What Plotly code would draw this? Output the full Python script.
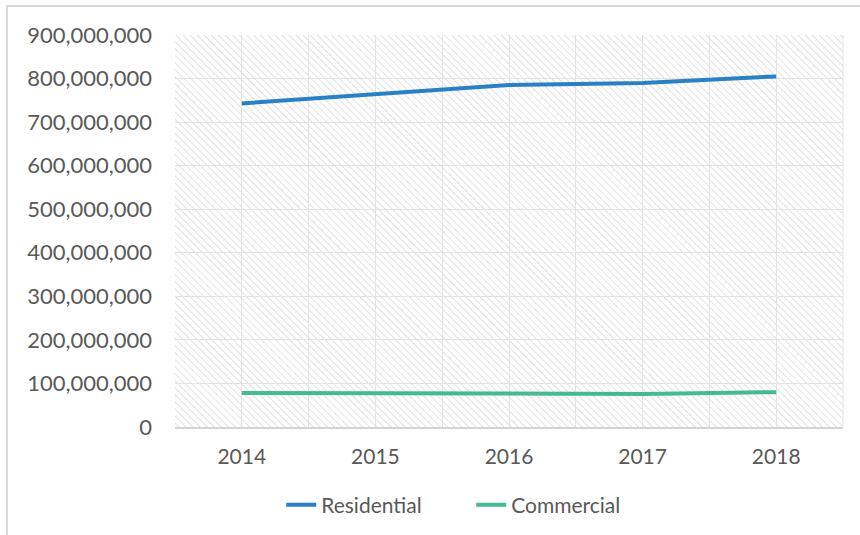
import base64
import plotly.graph_objects as go

years = [2014, 2015, 2016, 2017, 2018]
residential = [743_000_000, 764_000_000, 785_000_000, 790_000_000, 805_000_000]
commercial = [78_000_000, 78_000_000, 77_000_000, 76_000_000, 80_000_000]

W, H = 860, 535
L, R, T, B = 175, 17, 35, 108
pw, ph = W - L - R, H - T - B

svg = f'''<svg xmlns="http://www.w3.org/2000/svg" width="{pw}" height="{ph}">
<defs><pattern id="p" width="5" height="5" patternUnits="userSpaceOnUse" patternTransform="rotate(-45)">
<line x1="0" y1="0" x2="0" y2="5" stroke="#dcdcdc" stroke-width="1.7"/></pattern></defs>
<rect width="100%" height="100%" fill="white"/><rect width="100%" height="100%" fill="url(#p)"/></svg>'''
src = "data:image/svg+xml;base64," + base64.b64encode(svg.encode()).decode()

FAM = "Lato, 'Open Sans', sans-serif"
GREY = "#595959"

fig = go.Figure()
fig.add_trace(go.Scatter(x=years, y=residential, mode="lines", name="Residential",
                         line=dict(color="#2A80C6", width=4)))
fig.add_trace(go.Scatter(x=years, y=commercial, mode="lines", name="Commercial",
                         line=dict(color="#44BA94", width=4)))

fig.update_layout(
    width=W, height=H,
    margin=dict(l=L, r=R, t=T, b=B),
    paper_bgcolor="white", plot_bgcolor="white",
    font=dict(family=FAM, size=21, color=GREY),
    showlegend=True,
    legend=dict(orientation="h", xref="container", yref="container",
                x=0.327, y=0.056, xanchor="left", yanchor="middle",
                entrywidth=145, entrywidthmode="pixels",
                font=dict(family=FAM, size=21, color=GREY), itemwidth=30),
    images=[dict(source=src, xref="paper", yref="paper", x=0, y=1, sizex=1, sizey=1,
                 xanchor="left", yanchor="top", sizing="stretch", layer="below")],
    shapes=[dict(type="rect", xref="paper", yref="paper",
                 x0=(7 - L) / pw, x1=(W + 3 - L) / pw,
                 y0=(T + ph - (H + 3)) / ph, y1=(T + ph - 6) / ph,
                 line=dict(color="#d9d9d9", width=2), layer="below")],
)
fig.update_xaxes(range=[2013.5, 2018.5], tickmode="array", tickvals=years,
                 ticktext=[str(y) for y in years],
                 tickfont=dict(family=FAM, size=21, color=GREY),
                 showgrid=True, gridcolor="#e3e3e3", gridwidth=1,
                 minor=dict(dtick=0.5, tick0=2013.5, showgrid=True, gridcolor="#e3e3e3", gridwidth=1),
                 showline=True, linecolor="#d4d4d4", linewidth=2, mirror=False,
                 ticks="", ticklabelstandoff=10, zeroline=False)
fig.update_yaxes(range=[0, 900_000_000], dtick=100_000_000, tickformat=",d",
                 tickfont=dict(family=FAM, size=22, color=GREY),
                 showgrid=True, gridcolor="#e3e3e3", gridwidth=1,
                 showline=False, ticks="", ticklabelstandoff=22, zeroline=False)
fig.add_shape(type="line", xref="paper", yref="paper", x0=1, x1=1, y0=0, y1=1,
              line=dict(color="#e3e3e3", width=1))

fig.write_html("out.html", config={"displayModeBar": False},
               post_script="document.body.style.margin='0';")
